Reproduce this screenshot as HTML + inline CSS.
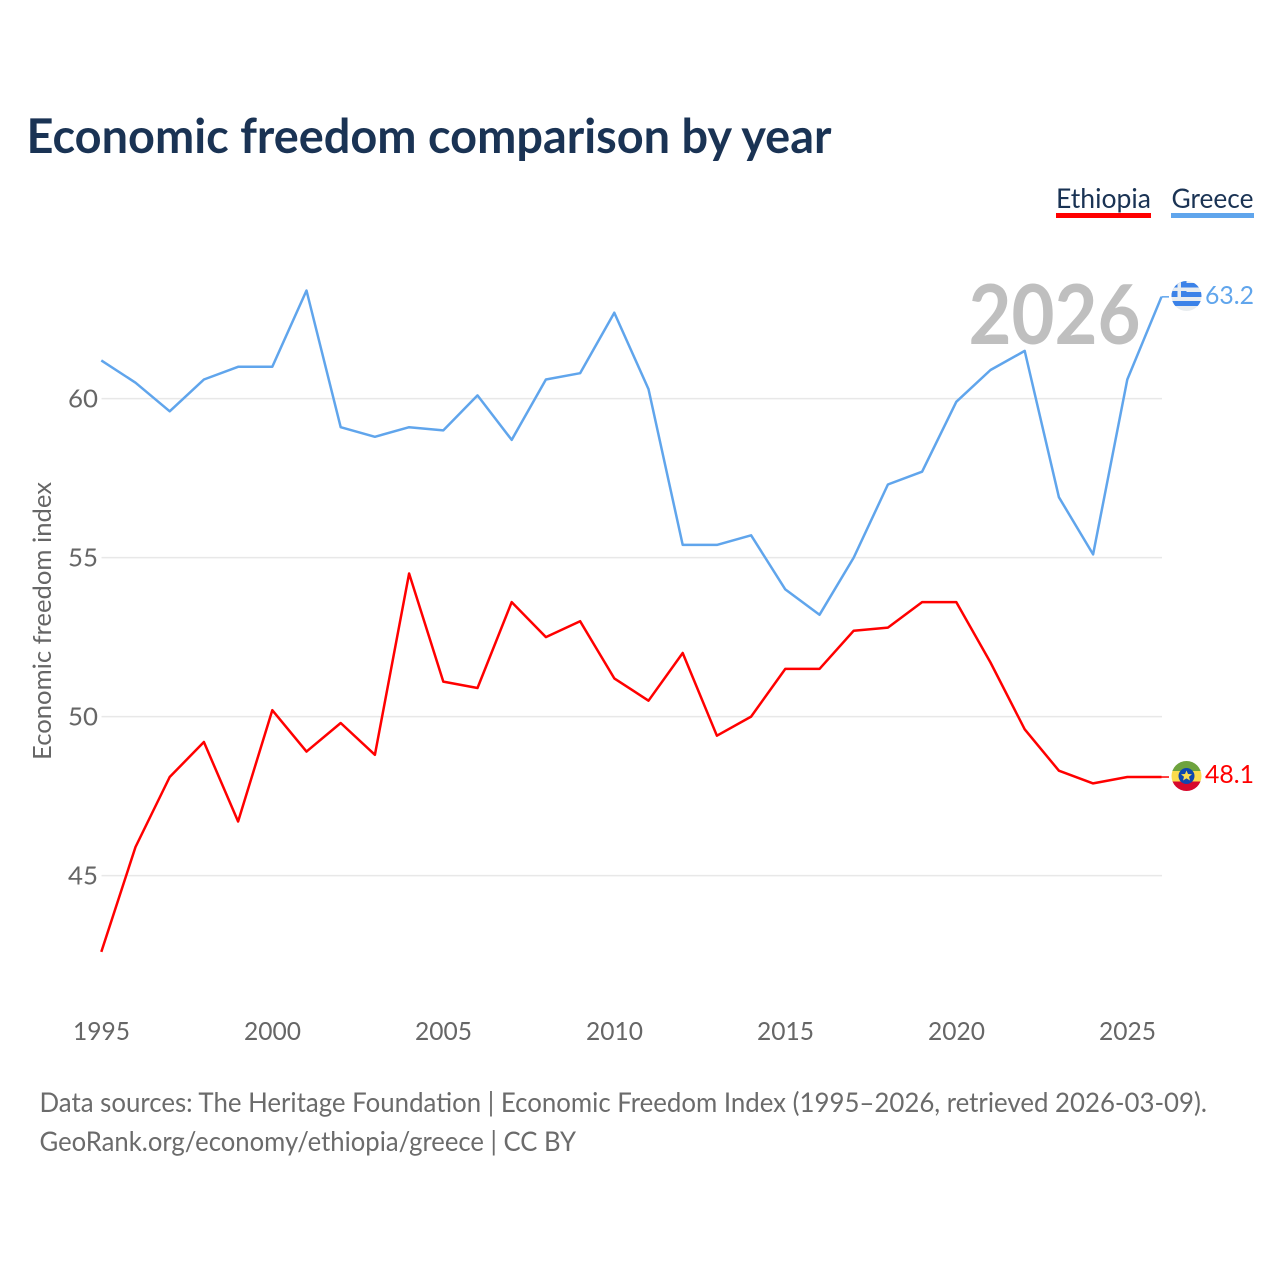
<!DOCTYPE html>
<html lang="en">
<head>
<meta charset="utf-8">
<title>Economic freedom comparison by year</title>
<style>
  html, body { margin: 0; padding: 0; background: #fff; }
  svg { display: block; font-family: "Lato", "Carlito", "Liberation Sans", sans-serif; }
</style>
</head>
<body>
<svg id="chart" xmlns="http://www.w3.org/2000/svg" width="1280" height="1280" viewBox="0 0 1280 1280">
  <defs>
    <clipPath id="flag-clip-gr"><circle cx="1186.5" cy="296" r="15"/></clipPath>
    <clipPath id="flag-clip-et"><circle cx="1186.5" cy="776" r="15"/></clipPath>
  </defs>
  <rect x="0" y="0" width="1280" height="1280" fill="#ffffff"/>
  <text x="26.5" y="153" font-size="48" font-weight="700" fill="#1a3354" textLength="805" lengthAdjust="spacingAndGlyphs">Economic freedom comparison by year</text>

  <g>
    <text x="1056" y="208" font-size="27" fill="#1a3354" textLength="95" lengthAdjust="spacingAndGlyphs">Ethiopia</text>
    <rect x="1056" y="213" width="95" height="5" fill="#ff0000"/>
  </g>
  <g>
    <text x="1171.5" y="208" font-size="27" fill="#1a3354" textLength="82" lengthAdjust="spacingAndGlyphs">Greece</text>
    <rect x="1171" y="213" width="83" height="5" fill="#60a5ec"/>
  </g>

  <g id="grid"></g>
  <g id="y-ticks"></g>
  <g id="x-ticks"></g>

  <text transform="translate(51,621) rotate(-90)" text-anchor="middle" font-size="25" fill="#666666" textLength="278" lengthAdjust="spacingAndGlyphs">Economic freedom index</text>

  <text x="968.5" y="344" font-size="82" font-weight="700" fill="#bfbfbf" textLength="172" lengthAdjust="spacingAndGlyphs">2026</text>

  <g id="series"></g>

  <g clip-path="url(#flag-clip-gr)">
    <rect x="1171" y="281" width="31" height="30" fill="#e8ecef"/>
    <rect x="1171" y="283" width="31" height="4.5" fill="#3b82e8"/>
    <rect x="1171" y="292" width="31" height="5" fill="#3b82e8"/>
    <rect x="1171" y="301" width="31" height="5" fill="#3b82e8"/>
    <rect x="1171" y="281" width="15.5" height="16" fill="#3b82e8"/>
    <rect x="1177.5" y="281" width="3.5" height="16" fill="#e8ecef"/>
    <rect x="1171" y="287.5" width="15.5" height="3.5" fill="#e8ecef"/>
  </g>
  <g clip-path="url(#flag-clip-et)">
    <rect x="1171" y="761" width="31" height="10" fill="#6ea33e"/>
    <rect x="1171" y="771" width="31" height="10.5" fill="#fbdc4e"/>
    <rect x="1171" y="781.5" width="31" height="10" fill="#d7092c"/>
    <circle cx="1186.5" cy="776" r="8" fill="#0f47af"/>
    <polygon points="1186.5,770.5 1188,774 1192,774.3 1189,776.7 1190,780.5 1186.5,778.4 1183,780.5 1184,776.7 1181,774.3 1185,774" fill="#fbdc4e"/>
  </g>

  <text id="value-greece" x="1205" y="304" font-size="25" fill="#60a5ec" textLength="49" lengthAdjust="spacingAndGlyphs"></text>
  <text id="value-ethiopia" x="1205" y="783" font-size="25" fill="#ff0000" textLength="49" lengthAdjust="spacingAndGlyphs"></text>

  <text x="39.5" y="1112" font-size="27" fill="#6b6b6b" textLength="1167.5" lengthAdjust="spacingAndGlyphs">Data sources: The Heritage Foundation | Economic Freedom Index (1995–2026, retrieved 2026-03-09).</text>
  <text x="39.5" y="1151" font-size="27" fill="#6b6b6b" textLength="536.5" lengthAdjust="spacingAndGlyphs">GeoRank.org/economy/ethiopia/greece | CC BY</text>
</svg>
<script>
const firstYear = 1995;
const ethiopiaValues = [42.6, 45.9, 48.1, 49.2, 46.7, 50.2, 48.9, 49.8, 48.8, 54.5, 51.1, 50.9, 53.6, 52.5, 53.0, 51.2, 50.5, 52.0, 49.4, 50.0, 51.5, 51.5, 52.7, 52.8, 53.6, 53.6, 51.7, 49.6, 48.3, 47.9, 48.1, 48.1];
const greeceValues = [61.2, 60.5, 59.6, 60.6, 61.0, 61.0, 63.4, 59.1, 58.8, 59.1, 59.0, 60.1, 58.7, 60.6, 60.8, 62.7, 60.3, 55.4, 55.4, 55.7, 54.0, 53.2, 55.0, 57.3, 57.7, 59.9, 60.9, 61.5, 56.9, 55.1, 60.6, 63.2];
const xTickLabels = [1995, 2000, 2005, 2010, 2015, 2020, 2025];
const yTickLabels = [45, 50, 55, 60];

const NS = 'http://www.w3.org/2000/svg';
function xScale(year) { return 101.3 + (year - 1995) * 34.2; }
function yScale(value) { return 398.6 + (60 - value) * 31.8; }
function make(tag, attrs, parent) {
  const el = document.createElementNS(NS, tag);
  for (const k in attrs) el.setAttribute(k, attrs[k]);
  parent.appendChild(el);
  return el;
}

const gridGroup = document.getElementById('grid');
const yTickGroup = document.getElementById('y-ticks');
const xTickGroup = document.getElementById('x-ticks');
const seriesGroup = document.getElementById('series');

yTickLabels.forEach(function (v) {
  const line = make('line', { x1: 101.5, x2: 1162, y1: yScale(v), y2: yScale(v), stroke: '#e8e8e8', 'stroke-width': 1.5 }, gridGroup);
  
  
  const label = make('text', { x: 98, y: yScale(v) + 9, 'text-anchor': 'end', 'font-size': 25.5, fill: '#666666', textLength: 30, lengthAdjust: 'spacingAndGlyphs' }, yTickGroup);
  label.textContent = v;
  
  
});

xTickLabels.forEach(function (y) {
  const label = make('text', { x: xScale(y) + 0.2, y: 1040, 'text-anchor': 'middle', 'font-size': 25, fill: '#666666', textLength: 57, lengthAdjust: 'spacingAndGlyphs' }, xTickGroup);
  label.textContent = y;
  
  
});

function drawSeries(values, color, name) {
  const pts = values.map(function (v, i) { return xScale(firstYear + i).toFixed(1) + ',' + yScale(v).toFixed(1); });
  const line = make('polyline', { points: pts.join(' '), fill: 'none', stroke: color, 'stroke-width': 2.5, 'stroke-linejoin': 'round' }, seriesGroup);
  
  
  const lastX = xScale(firstYear + values.length - 1);
  const lastY = yScale(values[values.length - 1]);
  const conn = make('line', { x1: lastX, x2: 1169, y1: lastY, y2: lastY, stroke: color, 'stroke-width': 1.5 }, seriesGroup);
  
  
}
drawSeries(ethiopiaValues, '#ff0000', 'ethiopia');
drawSeries(greeceValues, '#60a5ec', 'greece');

document.getElementById('value-greece').textContent = greeceValues[greeceValues.length - 1].toFixed(1);
document.getElementById('value-ethiopia').textContent = ethiopiaValues[ethiopiaValues.length - 1].toFixed(1);
</script>
</body>
</html>
